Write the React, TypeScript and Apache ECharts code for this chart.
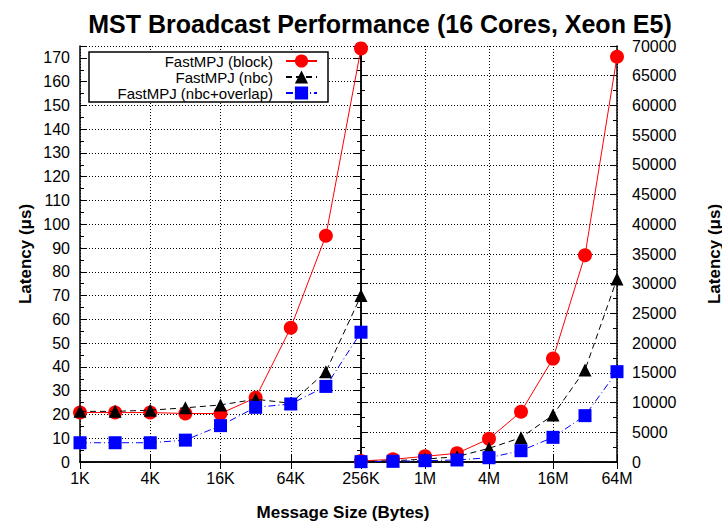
import React, { useEffect, useRef } from "react";
import * as echarts from "echarts";

const smallSizes = ["1K", "2K", "4K", "8K", "16K", "32K", "64K", "128K", "256K"];
const largeSizes = ["256K", "512K", "1M", "2M", "4M", "8M", "16M", "32M", "64M"];

const blockSmall = [20.8, 20.8, 20.8, 20.4, 20.4, 27.0, 56.5, 95.2, 174];
const nbcSmall = [21.3, 21.3, 21.8, 22.8, 24.0, 26.4, 24.7, 38.0, 70.0];
const overlapSmall = [8.1, 8.1, 8.1, 9.2, 15.3, 23.0, 24.4, 31.8, 54.6];

const blockLarge = [174, 450, 950, 1460, 3900, 8450, 17400, 34800, 68200];
const nbcLarge = [70, 220, 480, 900, 2300, 4100, 7900, 15500, 30800];
const overlapLarge = [55, 120, 220, 340, 720, 1900, 4150, 7800, 15200];

const seriesNames = ["FastMPJ (block)", "FastMPJ (nbc)", "FastMPJ (nbc+overlap)"];

const FONT = '"Liberation Sans", Arial, Helvetica, sans-serif';

export default function App() {
  const ref = useRef<HTMLDivElement>(null);
  useEffect(() => {
    if (!ref.current) return;
    const chart = echarts.init(ref.current, null, { renderer: "svg" });
    const axisLine = { show: true, lineStyle: { color: "#000", width: 1.5 } };
    const dotted = { show: true, lineStyle: { color: "#000", width: 1, type: [1, 2] as any } };
    const labelStyle = { color: "#000", fontSize: 16, fontFamily: FONT };
    const catAxis = (gridIndex: number, position: string, data: string[], showLabel: boolean, labelInterval: any, split: boolean) => ({
      type: "category",
      gridIndex,
      position,
      data,
      boundaryGap: false,
      axisLine,
      axisTick: { show: true, inside: true, length: 7, interval: 1, lineStyle: { color: "#000", width: 1 } },
      axisLabel: { show: showLabel, interval: labelInterval, margin: 8, ...labelStyle },
      splitLine: split ? { ...dotted, interval: 1 } : { show: false },
    });
    const valAxis = (gridIndex: number, position: string, max: number, interval: number, showLabel: boolean, split: boolean, margin: number) => ({
      type: "value",
      gridIndex,
      position,
      min: 0,
      max,
      interval,
      axisLine,
      axisTick: { show: true, inside: true, length: 7, lineStyle: { color: "#000", width: 1 } },
      minorTick: { show: true, splitNumber: 2, length: 4, lineStyle: { color: "#000", width: 1 } },
      axisLabel: {
        show: showLabel,
        margin,
        showMaxLabel: max % interval === 0,
        formatter: (v: number) => String(v),
        ...labelStyle,
      },
      splitLine: split ? dotted : { show: false },
    });
    const styles = [
      { symbol: "circle", symbolSize: 14, color: "#ff0000", lineType: "solid" as any },
      { symbol: "triangle", symbolSize: 13, color: "#000000", lineType: [6, 4] as any },
      { symbol: "rect", symbolSize: 13, color: "#0000ff", lineType: [7, 3, 1, 3] as any },
    ];
    const smallData = [blockSmall, nbcSmall, overlapSmall];
    const largeData = [blockLarge, nbcLarge, overlapLarge];
    const series: any[] = [];
    [0, 1].forEach((g) => {
      styles.forEach((s, i) => {
        series.push({
          type: "line",
          name: seriesNames[i],
          xAxisIndex: g === 0 ? 0 : 2,
          yAxisIndex: g === 0 ? 0 : 3,
          data: g === 0 ? smallData[i] : largeData[i],
          symbol: s.symbol,
          symbolSize: s.symbolSize,
          showAllSymbol: true,
          itemStyle: { color: s.color },
          lineStyle: { color: s.color, width: 1, type: s.lineType },
          z: 2 + i,
        });
      });
    });
    chart.setOption({
      animation: false,
      backgroundColor: "#fff",
      textStyle: { fontFamily: FONT },
      grid: [
        { left: 80, top: 46, width: 281, height: 416 },
        { left: 361, top: 46, width: 256, height: 416 },
      ],
      xAxis: [
        catAxis(0, "bottom", smallSizes, true, 1, true),
        catAxis(0, "top", smallSizes, false, 1, false),
        catAxis(1, "bottom", largeSizes, true, (i: number) => i > 0 && i % 2 === 0, true),
        catAxis(1, "top", largeSizes, false, 1, false),
      ],
      yAxis: [
        valAxis(0, "left", 175, 10, true, true, 10),
        valAxis(0, "right", 175, 10, false, false, 10),
        valAxis(1, "left", 70000, 5000, false, false, 10),
        valAxis(1, "right", 70000, 5000, true, true, 15),
      ],
      legend: {
        orient: "vertical",
        align: "right",
        right: 404,
        top: 53,
        padding: 0,
        itemWidth: 31,
        itemHeight: 16.5,
        itemGap: 0,
        z: 10,
        data: seriesNames,
        textStyle: { color: "#000", fontSize: 15, lineHeight: 16, fontFamily: FONT, padding: [0, 8, 0, 0] },
      },
      graphic: [
        {
          type: "rect",
          z: 5,
          shape: { x: 89, y: 52, width: 239, height: 50 },
          style: { fill: "#fff", stroke: "#000", lineWidth: 1.5 },
        },
        {
          type: "text",
          x: 380,
          y: 24,
          style: {
            text: "MST Broadcast Performance (16 Cores, Xeon E5)",
            textAlign: "center",
            textVerticalAlign: "middle",
            font: `bold 25px ${FONT}`,
            fill: "#000",
          },
        },
        {
          type: "text",
          x: 343,
          y: 512,
          style: {
            text: "Message Size (Bytes)",
            textAlign: "center",
            textVerticalAlign: "middle",
            font: `bold 17px ${FONT}`,
            fill: "#000",
          },
        },
        {
          type: "text",
          x: 25,
          y: 254,
          rotation: Math.PI / 2,
          style: {
            text: "Latency (μs)",
            textAlign: "center",
            textVerticalAlign: "middle",
            font: `bold 17px ${FONT}`,
            fill: "#000",
          },
        },
        {
          type: "text",
          x: 714,
          y: 254,
          rotation: Math.PI / 2,
          style: {
            text: "Latency (μs)",
            textAlign: "center",
            textVerticalAlign: "middle",
            font: `bold 17px ${FONT}`,
            fill: "#000",
          },
        },
      ],
      series,
    });
    return () => chart.dispose();
  }, []);
  return <div ref={ref} style={{ position: "absolute", left: 0, top: 0, width: 722, height: 523 }} />;
}
